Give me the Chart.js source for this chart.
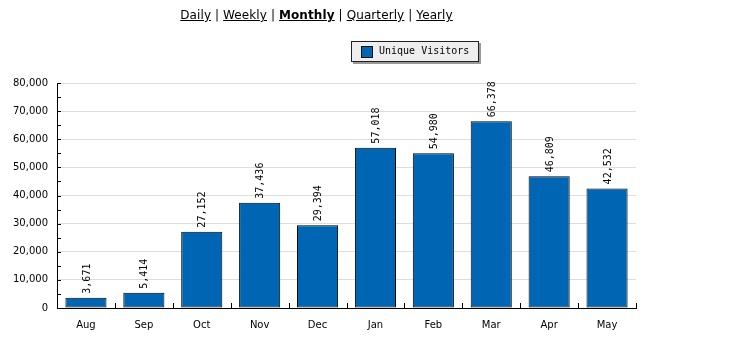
<!DOCTYPE html>
<html>
<head>
<meta charset="utf-8">
<script src="https://cdn.jsdelivr.net/npm/chart.js@4/dist/chart.umd.min.js"></script>
<style>
  html, body { margin: 0; padding: 0; background: #fff; }
  #wrap { position: relative; width: 745px; height: 344px; overflow: hidden; }
  #nav { position: absolute; left: 0; top: 8px; width: 633px; text-align: center;
         font: 12px "DejaVu Sans", Verdana, sans-serif; color: #000; letter-spacing: 0.1px; }
  #nav a { color: #000; text-decoration: underline; }
  #nav b { text-decoration: underline; }
  #legend { position: absolute; left: 351px; top: 41px; width: 126px; height: 19px;
            background: #eeeeee; border: 1px solid #222; box-shadow: 2px 2px 0 #999;
            font: 10px "DejaVu Sans Mono", monospace; color: #000; }
  #legend .sw { position: absolute; left: 9px; top: 4px; width: 10px; height: 10px;
                background: #0066b3; border: 1px solid #111; }
  #legend .tx { position: absolute; left: 27px; top: 3px; }
  canvas { position: absolute; left: 0; top: 0; }
</style>
</head>
<body>
<div id="wrap">
  <canvas id="c" width="745" height="344"></canvas>
  <div id="nav"><a>Daily</a> | <a>Weekly</a> | <b>Monthly</b> | <a>Quarterly</a> | <a>Yearly</a></div>
  <div id="legend"><div class="sw"></div><div class="tx">Unique Visitors</div></div>
</div>
<script>
const months = ['Aug', 'Sep', 'Oct', 'Nov', 'Dec', 'Jan', 'Feb', 'Mar', 'Apr', 'May'];
const uniqueVisitors = [3671, 5414, 27152, 37436, 29394, 57018, 54980, 66378, 46809, 42532];
const yMax = 80000;
const yStep = 10000;

const fmt = v => v.toLocaleString('en-US');

// Axis tick marks and rotated value labels drawn over the bars
const decorations = {
  id: 'decorations',
  afterDatasetsDraw(chart) {
    const ctx = chart.ctx;
    const x = chart.scales.x, y = chart.scales.y;
    const area = chart.chartArea;
    ctx.save();
    ctx.strokeStyle = '#000';
    ctx.lineWidth = 1;
    // y ticks every half step, pointing into the plot
    for (let v = 0; v <= yMax; v += yStep / 2) {
      const py = Math.round(y.getPixelForValue(v)) + 0.5;
      ctx.beginPath();
      ctx.moveTo(area.left, py);
      ctx.lineTo(area.left + 4, py);
      ctx.stroke();
    }
    // x ticks at category boundaries
    const half = (x.getPixelForValue(1) - x.getPixelForValue(0)) / 2;
    for (let i = 0; i < months.length; i++) {
      const px = Math.round(x.getPixelForValue(i) + half) + 0.5;
      ctx.beginPath();
      ctx.moveTo(px, area.bottom);
      ctx.lineTo(px, area.bottom - 5);
      ctx.stroke();
    }
    // value labels
    ctx.fillStyle = '#000';
    ctx.font = '10px "DejaVu Sans Mono", monospace';
    ctx.textAlign = 'left';
    ctx.textBaseline = 'middle';
    const meta = chart.getDatasetMeta(0);
    meta.data.forEach((bar, i) => {
      ctx.save();
      ctx.translate(bar.x + 1, bar.y - 4);
      ctx.rotate(-Math.PI / 2);
      ctx.fillText(fmt(uniqueVisitors[i]), 0, 0);
      ctx.restore();
    });
    ctx.restore();
  }
};

new Chart(document.getElementById('c'), {
  type: 'bar',
  data: {
    labels: months,
    datasets: [{
      label: 'Unique Visitors',
      data: uniqueVisitors,
      backgroundColor: '#0066b3',
      borderColor: '#000000',
      borderWidth: 1,
      borderSkipped: false,
      categoryPercentage: 1,
      barPercentage: 0.71
    }]
  },
  options: {
    responsive: false,
    animation: false,
    devicePixelRatio: 1,
    layout: { padding: { top: 83, right: 109, left: 0, bottom: 0 } },
    plugins: { legend: { display: false }, tooltip: { enabled: false } },
    scales: {
      x: {
        afterFit(s) { s.height = 36; },
        grid: { display: false, drawTicks: false },
        border: { display: true, color: '#000', width: 1 },
        ticks: { color: '#000', font: { family: '"DejaVu Sans", Verdana, sans-serif', size: 10 }, padding: 11 }
      },
      y: {
        min: 0, max: yMax,
        afterFit(s) { s.width = 57; },
        grid: { color: '#dddddd', drawTicks: false },
        border: { display: true, color: '#000', width: 1 },
        ticks: {
          stepSize: yStep,
          color: '#000',
          padding: 9,
          font: { family: '"DejaVu Sans", Verdana, sans-serif', size: 10 },
          callback: v => fmt(v)
        }
      }
    }
  },
  plugins: [decorations]
});
</script>
</body>
</html>
